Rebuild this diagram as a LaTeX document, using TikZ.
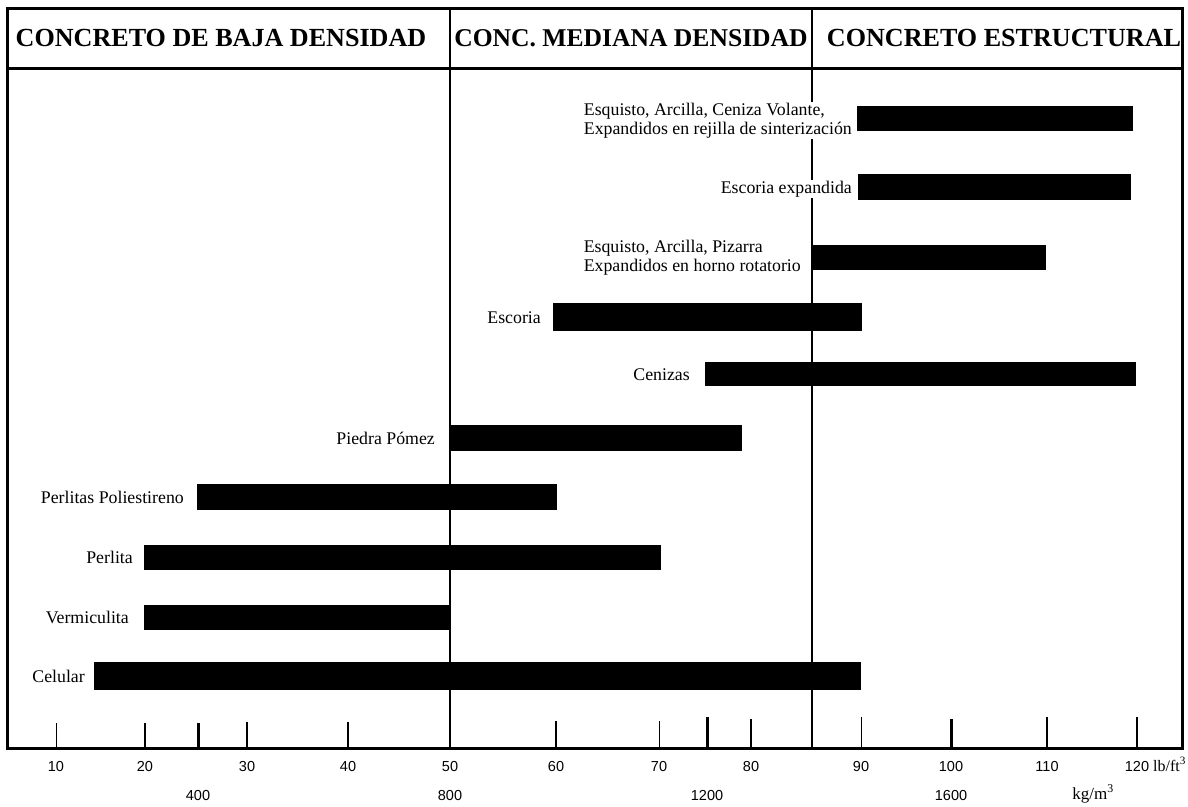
\documentclass[tikz,border=0pt]{standalone}
\usepackage{fontspec}
\setmainfont{Liberation Serif}
\newfontfamily\numfont{Liberation Sans}
\usetikzlibrary{calc}
\begin{document}
\begin{tikzpicture}[x=1pt,y=-1pt,
  frameline/.style={line width=3pt},
  bar/.style={fill=black, draw=none, inner sep=0pt, outer sep=0pt, anchor=north west},
  lbl/.style={font=\fontsize{17.8}{19}\selectfont, inner sep=1pt, fill=white, align=left},
  hdr/.style={font=\fontsize{26.1}{28}\selectfont\bfseries, inner sep=0pt, anchor=base},
  num/.style={font=\numfont\fontsize{14.5}{16}\selectfont, inner sep=0pt, anchor=base},
  unit/.style={font=\fontsize{16}{18}\selectfont, inner sep=0pt},
]
\useasboundingbox (0,0) rectangle (1188,806);
\fill[white] (0,0) rectangle (1188,806);

% frame, header rule and column separators
\draw[frameline] (7,8) rectangle (1182,748);
\draw[frameline] (7,68) -- (1182,68);
\draw[line width=1.5pt] (450,8) -- (450,748);
\draw[line width=2pt] (812,8) -- (812,748);

% headers
\node[hdr] (h1) at (221,46) {CONCRETO DE BAJA DENSIDAD};
\node[hdr, font=\fontsize{25.6}{28}\selectfont\bfseries] (h2) at (631,46) {CONC. MEDIANA DENSIDAD};
\node[hdr] (h3) at (1004,46) {CONCRETO ESTRUCTURAL};

% bars
\node[bar, minimum width=276pt, minimum height=25pt] (b1) at (857,106) {};
\node[bar, minimum width=273pt, minimum height=26pt] (b2) at (858,174) {};
\node[bar, minimum width=234pt, minimum height=25pt] (b3) at (812,245) {};
\node[bar, minimum width=309pt, minimum height=28pt] (b4) at (553,303) {};
\node[bar, minimum width=431pt, minimum height=24pt] (b5) at (705,362) {};
\node[bar, minimum width=292pt, minimum height=26pt] (b6) at (450,425) {};
\node[bar, minimum width=360pt, minimum height=26pt] (b7) at (197,484) {};
\node[bar, minimum width=517pt, minimum height=25pt] (b8) at (144,545) {};
\node[bar, minimum width=306pt, minimum height=25pt] (b9) at (144,605) {};
\node[bar, minimum width=767pt, minimum height=28pt] (b10) at (94,662) {};

% labels
\node[lbl, anchor=east] (l1) at ($(b1.west)+(-4,2)$) {Esquisto, Arcilla, Ceniza Volante,\\Expandidos en rejilla de sinterización};
\node[lbl, anchor=base east] (l2) at ($(b2.west)+(-5,6)$) {Escoria expandida};
\node[lbl, anchor=east] (l3) at ($(b3.west)+(-10,0)$) {Esquisto, Arcilla, Pizarra\\Expandidos en horno rotatorio};
\node[lbl, anchor=base east] (l4) at ($(b4.west)+(-11,6)$) {Escoria};
\node[lbl, anchor=base east] (l5) at ($(b5.west)+(-14,6)$) {Cenizas};
\node[lbl, anchor=base east] (l6) at ($(b6.west)+(-14,6)$) {Piedra Pómez};
\node[lbl, anchor=base east] (l7) at ($(b7.west)+(-12,6)$) {Perlitas Poliestireno};
\node[lbl, anchor=base east] (l8) at ($(b8.west)+(-10,6)$) {Perlita};
\node[lbl, anchor=base east] (l9) at ($(b9.west)+(-14,6)$) {Vermiculita};
\node[lbl, anchor=base east] (l10) at ($(b10.west)+(-8,6)$) {Celular};

% ticks
\foreach \tx/\ty/\tw in {56/723/1, 145/723/2, 198/723/3, 247/722/2, 348/722/2, 556/721/2,
  659/721/1, 707/717/3, 751/719/2, 861/717/1, 951/719/3, 1047/717/2, 1137/717/2}
  \draw[line width=\tw pt] (\tx,748) -- (\tx,\ty);

% lb/ft3 scale
\foreach \tx/\tv in {56/10, 145/20, 247/30, 348/40, 450/50, 556/60, 659/70, 751/80, 861/90, 951/100, 1047/110, 1137/120}
  \node[num] (n\tv) at (\tx,771) {\tv};
\node[unit, anchor=base west] (ulb) at (1153,771) {lb/ft\textsuperscript{3}};

% kg/m3 scale
\foreach \tx/\tv in {198/400, 450/800, 707/1200, 951/1600}
  \node[num] (k\tv) at (\tx,800) {\tv};
\node[unit, anchor=base, font=\fontsize{17}{19}\selectfont] (ukg) at (1093,799) {kg/m\textsuperscript{3}};
\end{tikzpicture}
\end{document}
